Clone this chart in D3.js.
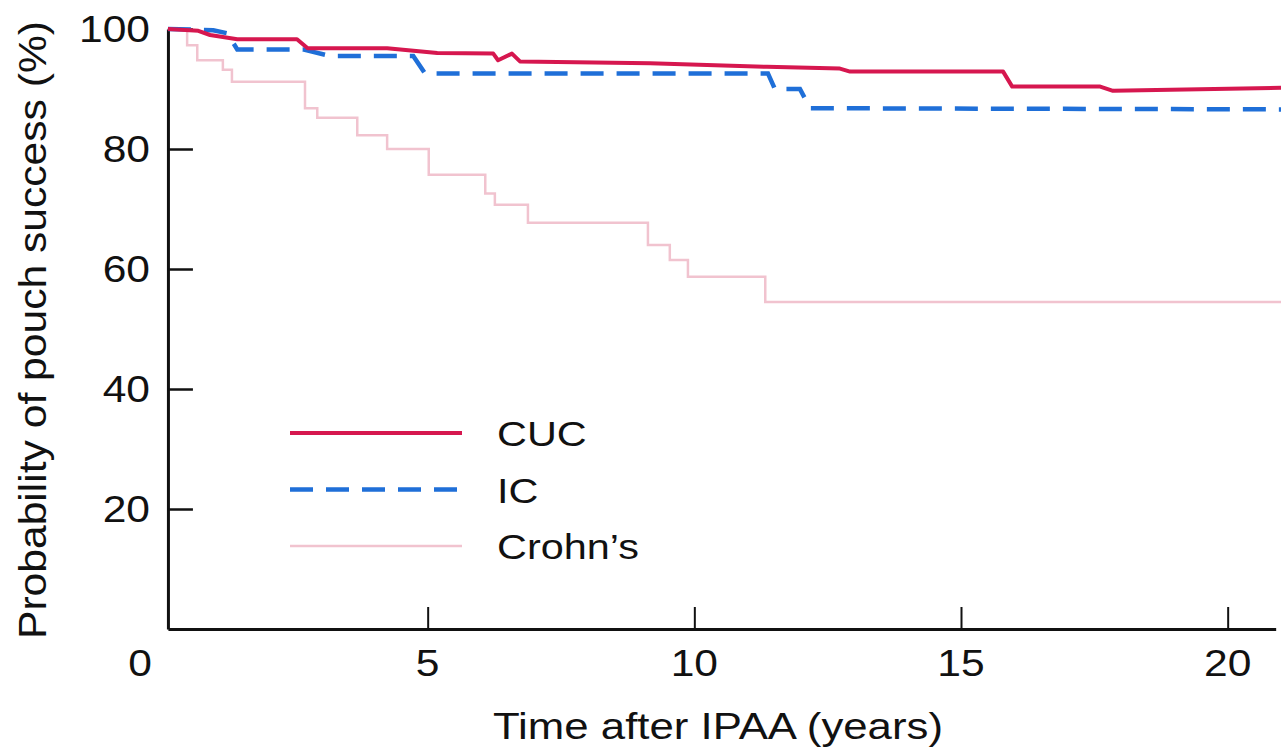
<!DOCTYPE html>
<html>
<head>
<meta charset="utf-8">
<script src="https://cdn.jsdelivr.net/npm/d3@7"></script>
<style>
	body { margin: 0; background: white; }
	svg { display: block; }
</style>
</head>
<body>
<div id="chart"></div>
<script>
// Kaplan-Meier style curves (time in years, % success)
const cuc_time = [0.13, 0.7, 0.92, 1.43, 2.55, 2.75, 4.24, 5.18, 6.23, 6.32, 6.58, 6.73, 9.17, 11.36, 12.73, 12.92, 15.79, 15.96, 17.61, 17.85, 21];
const cuc_value = [100, 99.7, 99.0, 98.3, 98.3, 96.8, 96.8, 96.0, 95.9, 94.8, 95.9, 94.6, 94.3, 93.7, 93.4, 92.9, 92.9, 90.4, 90.4, 89.7, 90.2];

const ic_time = [0.13, 0.98, 1.24, 1.43, 2.66, 3.17, 4.73, 4.95, 11.38, 11.51, 11.98, 12.17, 21];
const ic_value = [100, 99.8, 99.3, 96.6, 96.6, 95.5, 95.5, 92.6, 92.6, 90.0, 90.0, 86.8, 86.6];

const crohn_time = [0.13, 0.49, 0.68, 1.16, 1.33, 2.70, 2.93, 3.68, 4.24, 5.02, 6.08, 6.26, 6.88, 9.13, 9.54, 9.88, 11.33, 21];
const crohn_value = [100, 97.3, 94.8, 93.2, 91.2, 86.8, 85.2, 82.3, 80.0, 75.7, 72.6, 70.7, 67.7, 64.0, 61.5, 58.7, 54.5, 54.5];

const x_ticks = [5, 10, 15, 20];
const y_ticks = [20, 40, 60, 80, 100];
const series_names = ['CUC', 'IC', "Crohn\u2019s"];

const width = 1283;
const height = 752;
const font = '"Liberation Sans", Arial, sans-serif';
const stretch = 1.15;   // the figure's lettering is a bit wide

var svg = d3.select('#chart').append('svg')
	.attr('width', width)
	.attr('height', height)
	.style('font-family', font)

var x = d3.scaleLinear().domain([0, 21]).range([161, 1281]);
var y = d3.scaleLinear().domain([0, 100]).range([629, 29]);

function zip(ts, vs) {
	return ts.map(function(t, i) { return [t, vs[i]]; });
}

// text with a small horizontal stretch
function label(g, px, py, txt, anchor, size) {
	return g.append('text')
		.attr('transform', 'translate(' + px + ',' + py + ') scale(' + stretch + ',1)')
		.attr('text-anchor', anchor)
		.style('font-size', size + 'px')
		.style('fill', '#111')
		.text(txt)
}

// axes
var x_axis_scale = x.copy().domain([0.13, 20.9]).range([x(0.13), x(20.9)]);
var x_axis = svg.append('g')
	.attr('transform', 'translate(0,' + y(0) + ')')
	.call(d3.axisBottom(x_axis_scale).tickValues(x_ticks).tickSize(-22).tickSizeOuter(0).tickFormat(''))
x_axis.select('.domain').attr('stroke', '#111').attr('stroke-width', 3)
x_axis.selectAll('.tick line').attr('stroke', '#111').attr('stroke-width', 2)

var y_axis = svg.append('g')
	.attr('transform', 'translate(' + x(0.13) + ',0)')
	.call(d3.axisLeft(y).tickValues(y_ticks).tickSize(-25).tickSizeOuter(0).tickFormat(''))
y_axis.select('.domain').attr('stroke', '#111').attr('stroke-width', 3)
y_axis.selectAll('.tick line').attr('stroke', '#111').attr('stroke-width', 2.5)

// tick labels
x_ticks.forEach(function(t) { label(svg, x(t), 676, t, 'middle', 37); });
label(svg, x(0) - 21, 676, '0', 'middle', 37);
y_ticks.forEach(function(v) { label(svg, 150, y(v) + 13, v, 'end', 37); });

// axis titles
svg.append('text')
	.attr('x', 718)
	.attr('y', 739)
	.attr('text-anchor', 'middle')
	.attr('textLength', 450)
	.attr('lengthAdjust', 'spacingAndGlyphs')
	.style('font-size', '37px')
	.style('fill', '#111')
	.text('Time after IPAA (years)')

svg.append('text')
	.attr('transform', 'translate(46,330) rotate(-90)')
	.attr('text-anchor', 'middle')
	.attr('textLength', 618)
	.attr('lengthAdjust', 'spacingAndGlyphs')
	.style('font-size', '39px')
	.style('fill', '#111')
	.text('Probability of pouch success (%)')

// curves
var lin = d3.line().x(d => x(d[0])).y(d => y(d[1]));
var step = d3.line().x(d => x(d[0])).y(d => y(d[1])).curve(d3.curveStepAfter);

var styles = [
	{'color': '#d6174f', 'width': 4, 'dash': null},
	{'color': '#1f6fd8', 'width': 4.5, 'dash': '23,13'},
	{'color': '#f1c3cf', 'width': 2.5, 'dash': null},
];

svg.append('path')
	.datum(zip(crohn_time, crohn_value))
	.attr('d', step)
	.attr('fill', 'none')
	.attr('stroke', styles[2].color)
	.attr('stroke-width', styles[2].width)

svg.append('path')
	.datum(zip(ic_time, ic_value))
	.attr('d', lin)
	.attr('fill', 'none')
	.attr('stroke', styles[1].color)
	.attr('stroke-width', styles[1].width)
	.attr('stroke-dasharray', styles[1].dash)

svg.append('path')
	.datum(zip(cuc_time, cuc_value))
	.attr('d', lin)
	.attr('fill', 'none')
	.attr('stroke', styles[0].color)
	.attr('stroke-width', styles[0].width)
	.attr('stroke-linejoin', 'round')

// legend
var legend = svg.append('g')
series_names.forEach(function(name, i) {
	var ly = 433 + i * 56.5;
	legend.append('line')
		.attr('x1', 290).attr('x2', 462)
		.attr('y1', ly).attr('y2', ly)
		.attr('stroke', styles[i].color)
		.attr('stroke-width', styles[i].width)
		.attr('stroke-dasharray', styles[i].dash)
	label(legend, 497, ly + 13, name, 'start', 36);
});
</script>
</body>
</html>
